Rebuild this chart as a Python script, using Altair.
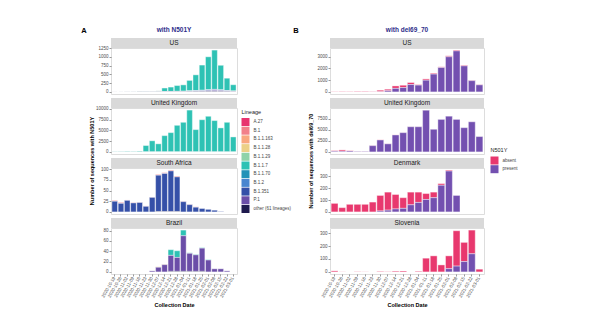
import altair as alt
import pandas as pd

FONT = "Liberation Sans"

dates = ["2020-10-19", "2020-10-26", "2020-11-02", "2020-11-09", "2020-11-16",
         "2020-11-23", "2020-11-30", "2020-12-07", "2020-12-14", "2020-12-21",
         "2020-12-28", "2021-01-04", "2021-01-11", "2021-01-18", "2021-01-25",
         "2021-02-01", "2021-02-08", "2021-02-15", "2021-02-22", "2021-03-01"]

lineages = ["A.27", "B.1", "B.1.1.163", "B.1.1.28", "B.1.1.29", "B.1.1.7",
            "B.1.1.70", "B.1.2", "B.1.351", "P.1", "other (61 lineages)"]
lineage_colors = ["#e8336e", "#f2808a", "#f9a77f", "#ecd087", "#8fd3a9", "#2ec2b4",
                  "#2192b8", "#4a86d0", "#3550a8", "#6b4ea8", "#1f1a4e"]

n501y_levels = ["absent", "present"]
n501y_colors = ["#e8386e", "#7350b0"]

# ---- Panel A: sequences with N501Y, by lineage ----
A_US = {
    "B.1":     [1, 1, 1, 2, 2, 1, 1, 2, 2, 1, 1, 1, 1, 1, 0, 0, 0, 0, 0, 0],
    "B.1.1.7": [0, 1, 2, 3, 10, 8, 9, 18, 100, 125, 165, 182, 300, 450, 720, 945, 1125, 705, 355, 182],
    "B.1.2":   [1, 1, 1, 1, 2, 2, 2, 3, 3, 4, 5, 5, 6, 6, 8, 8, 8, 6, 4, 2],
    "B.1.351": [0, 0, 0, 0, 0, 0, 1, 2, 3, 4, 5, 6, 10, 12, 15, 20, 22, 16, 10, 6],
    "P.1":     [0, 0, 0, 0, 0, 0, 0, 0, 0, 0, 1, 2, 5, 10, 15, 20, 30, 25, 15, 10],
    "other (61 lineages)": [1, 1, 2, 2, 4, 4, 4, 5, 5, 5, 6, 6, 8, 10, 10, 12, 12, 10, 8, 5],
}
A_UK = {
    "B.1.1.7": [80, 100, 150, 120, 200, 1470, 2570, 1870, 3770, 4470, 6170, 6870, 9700,
                5170, 7470, 8270, 7270, 5570, 6870, 3470],
    "other (61 lineages)": [10, 10, 10, 10, 10, 10, 10, 10, 10, 10, 10, 10, 20, 10, 10, 10, 10, 10, 10, 10],
}
A_SA = {
    "A.27":    [0, 1, 0, 0, 0, 0, 0, 0, 0, 0, 0, 0, 0, 0, 0, 0, 0, 0, 0, 0],
    "B.1":     [2, 2, 1, 1, 1, 1, 1, 2, 2, 2, 2, 1, 1, 1, 0, 0, 0, 0, 0, 0],
    "B.1.351": [25, 20, 27, 21, 22, 13, 34, 85, 89, 95, 81, 24, 17, 11, 8, 6, 4, 1, 0, 0],
    "other (61 lineages)": [0, 0, 0, 0, 0, 0, 0, 1, 1, 1, 1, 0, 0, 0, 0, 0, 0, 0, 0, 0],
}
A_BR = {
    "B.1.1.28": [0, 0, 0, 0, 0, 0, 0, 1, 1, 0, 0, 0, 0, 0, 0, 0, 0, 0, 0, 0],
    "B.1.1.7":  [0, 0, 0, 0, 0, 0, 0, 0, 0, 11, 13, 11, 1, 1, 1, 1, 0, 0, 0, 0],
    "P.1":      [0, 0, 0, 0, 0, 0, 2, 9, 14, 31, 27, 69, 35, 32, 45, 23, 6, 6, 2, 0],
    "other (61 lineages)": [0, 0, 0, 0, 0, 0, 0, 0, 0, 1, 1, 1, 1, 1, 1, 0, 0, 0, 0, 0],
}

# ---- Panel B: sequences with del69_70, by N501Y status ----
B_US = {
    "absent":  [20, 30, 25, 40, 60, 40, 135, 130, 210, 200, 170, 50, 110, 80, 60, 80, 70, 60, 40, 30],
    "present": [0, 0, 0, 0, 2, 3, 10, 100, 300, 370, 630, 580, 1000, 1520, 2080, 3000, 3500, 2220, 960, 600],
}
B_UK = {
    "absent":  [150, 300, 100, 50, 50, 60, 50, 30, 30, 20, 20, 20, 30, 10, 10, 10, 10, 10, 10, 10],
    "present": [150, 150, 200, 100, 100, 1410, 2690, 1820, 3830, 4350, 5690, 5690, 9430,
                5120, 7350, 8080, 7350, 5480, 6810, 3470],
}
B_DK = {
    "absent":  [72, 36, 64, 64, 64, 83, 131, 152, 122, 90, 107, 87, 50, 47, 14, 8, 0, 0, 0, 0],
    "present": [0, 0, 0, 0, 0, 0, 8, 15, 25, 30, 60, 80, 105, 120, 225, 345, 139, 0, 0, 0],
}
B_SI = {
    "absent":  [8, 1, 0, 2, 1, 0, 4, 2, 6, 7, 0, 5, 106, 124, 54, 99, 273, 148, 183, 21],
    "present": [0, 0, 0, 0, 0, 0, 0, 0, 0, 0, 0, 0, 0, 0, 0, 25, 45, 80, 140, 0],
}

A_ticks = {"US": [0, 250, 500, 750, 1000, 1250], "United Kingdom": [0, 2500, 5000, 7500, 10000],
           "South Africa": [0, 25, 50, 75, 100], "Brazil": [0, 20, 40, 60, 80]}
B_ticks = {"US": [0, 1000, 2000, 3000], "United Kingdom": [0, 2500, 5000, 7500, 10000],
           "Denmark": [0, 100, 200, 300], "Slovenia": [0, 100, 200, 300]}

WA, WB, H = 126, 154, 46


def to_df(data, levels):
    rows = []
    for k, vals in data.items():
        for d, v in zip(dates, vals):
            if v > 0:
                rows.append({"date": d, "grp": k, "n": v, "ord": len(levels) - levels.index(k)})
    return pd.DataFrame(rows)


def txt(t, x, y, size, color="#000000", weight="bold", angle=0):
    kw = dict(fontSize=size, color=color, fontWeight=weight, font=FONT,
              align="center", baseline="middle")
    if angle:
        kw["angle"] = angle
    return alt.Chart(pd.DataFrame({"t": [t]})).mark_text(**kw).encode(
        x=alt.value(x), y=alt.value(y), text="t:N")


def facet(data, label, ticks, levels, colors, width, bottom=False, legend=None, extras=()):
    df = to_df(data, levels)
    m = df.groupby("date")["n"].sum().max()
    if bottom:
        xaxis = alt.Axis(title="Collection Date", labelAngle=300, labelAlign="right",
                         labelBaseline="middle", labelFontSize=4.5, labelColor="#4d4d4d",
                         labelFont=FONT, tickSize=2, tickColor="#333333", tickWidth=0.5,
                         domain=False, labelPadding=1, titleFont=FONT, titleFontSize=5.5,
                         titleFontWeight="bold", titleColor="#000000", titlePadding=5,
                         labelOverlap=False)
    else:
        xaxis = None
    bars = alt.Chart(df).mark_bar(stroke="white", strokeWidth=0.4).encode(
        x=alt.X("date:N", scale=alt.Scale(domain=dates, paddingInner=0.1, paddingOuter=0.15),
                axis=xaxis),
        y=alt.Y("n:Q", stack="zero",
                scale=alt.Scale(domain=[-0.05 * m, 1.05 * m], nice=False, zero=False),
                axis=alt.Axis(values=ticks, format="d", title=None, labelFontSize=4.5,
                              labelColor="#4d4d4d", labelFont=FONT, tickSize=2,
                              tickColor="#333333", tickWidth=0.5,
                              domain=False, grid=False, labelPadding=1)),
        color=alt.Color("grp:N", scale=alt.Scale(domain=levels, range=colors), legend=legend),
        order=alt.Order("ord:Q", sort="ascending"),
    )
    sdf = pd.DataFrame({"label": [label]})
    strip = alt.Chart(sdf).mark_rect(color="#d9d9d9").encode(
        x=alt.value(0), x2=alt.value(width), y=alt.value(-10), y2=alt.value(0))
    stxt = alt.Chart(sdf).mark_text(fontSize=6.5, color="#1a1a1a", font=FONT).encode(
        x=alt.value(width / 2), y=alt.value(-5), text="label:N")
    return alt.layer(strip, stxt, bars, *extras).properties(width=width, height=H)


def leg(title, x, y):
    return alt.Legend(orient="none", legendX=x, legendY=y, title=title, titleFontSize=5.5,
                      titleFontWeight="normal", titleColor="#222222", titleFont=FONT,
                      labelFontSize=4.5, labelColor="#444444", labelFont=FONT,
                      symbolType="square", symbolSize=64, symbolStrokeWidth=0,
                      rowPadding=0.7, labelOffset=4, titlePadding=3, padding=0)


cells = [
    facet(A_US, "US", A_ticks["US"], lineages, lineage_colors, WA,
          extras=(txt("A", -27, -17.5, 7.5), txt("with N501Y", WA / 2, -18, 6.5, color="#2e2e8a"))),
    facet(B_US, "US", B_ticks["US"], n501y_levels, n501y_colors, WB,
          extras=(txt("B", -34, -17.5, 7.5), txt("with del69_70", WB / 2, -18, 6.5, color="#2e2e8a"))),
    facet(A_UK, "United Kingdom", A_ticks["United Kingdom"], lineages, lineage_colors, WA,
          legend=leg("Lineage", 130.5, 1.5)),
    facet(B_UK, "United Kingdom", B_ticks["United Kingdom"], n501y_levels, n501y_colors, WB),
    facet(A_SA, "South Africa", A_ticks["South Africa"], lineages, lineage_colors, WA,
          extras=(txt("Number of sequences with N501Y", -19.5, -7, 5.5, angle=270),)),
    facet(B_DK, "Denmark", B_ticks["Denmark"], n501y_levels, n501y_colors, WB,
          legend=leg("N501Y", 160.5, -20),
          extras=(txt("Number of sequences with del69_70", -19.5, -7, 5.5, angle=270),)),
    facet(A_BR, "Brazil", A_ticks["Brazil"], lineages, lineage_colors, WA, bottom=True),
    facet(B_SI, "Slovenia", B_ticks["Slovenia"], n501y_levels, n501y_colors, WB, bottom=True),
]

chart = alt.concat(
    *cells, columns=2, spacing={"row": 14, "column": 93}, bounds="flush", align="each"
).resolve_scale(color="independent").resolve_legend(color="independent").properties(
    padding={"left": 80, "top": 26, "right": 5, "bottom": 5}
).configure_view(stroke=None).configure(background="white")

chart.save("out.html", embed_options={"renderer": "svg", "actions": False})
